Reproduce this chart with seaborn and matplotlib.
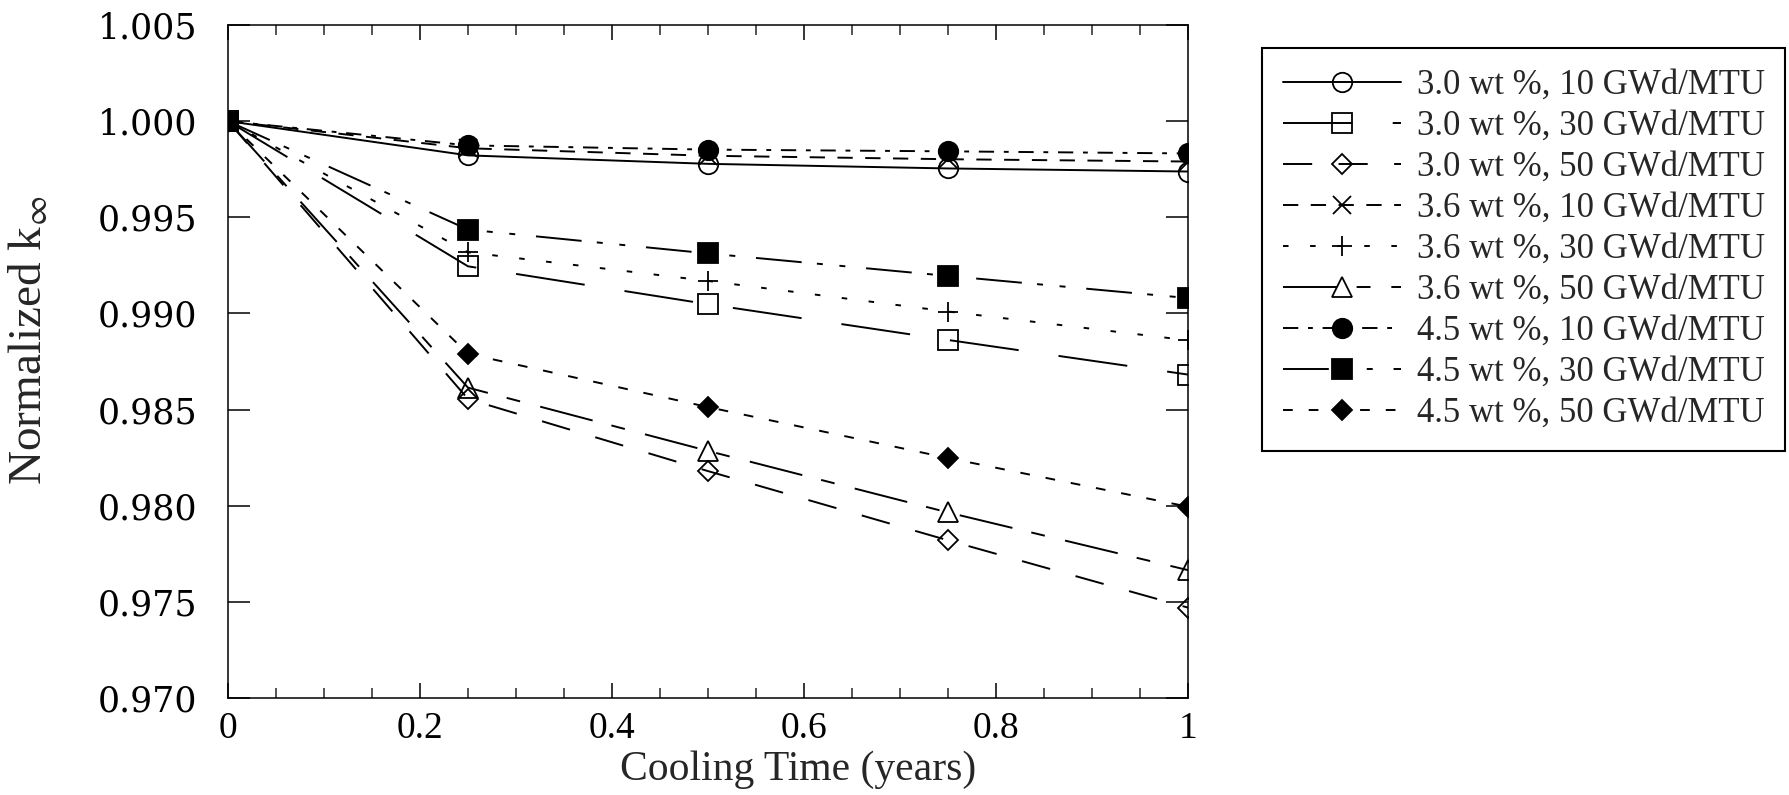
import matplotlib
matplotlib.use("Agg")
import matplotlib.pyplot as plt
import seaborn as sns
from matplotlib.ticker import FixedLocator, MultipleLocator

# ---------------- data ----------------
cooling_time = [0.0, 0.25, 0.5, 0.75, 1.0]

k_30_10 = [1.0, 0.99822, 0.99778, 0.99754, 0.99738]
k_30_30 = [1.0, 0.99245, 0.99048, 0.98862, 0.98682]
k_30_50 = [1.0, 0.98555, 0.98180, 0.97820, 0.97470]
k_36_10 = [1.0, 0.99859, 0.99820, 0.99802, 0.99790]
k_36_30 = [1.0, 0.99318, 0.99169, 0.99010, 0.98860]
k_36_50 = [1.0, 0.98614, 0.98285, 0.97965, 0.97665]
k_45_10 = [1.0, 0.99874, 0.99852, 0.99843, 0.99832]
k_45_30 = [1.0, 0.99436, 0.99312, 0.99195, 0.99080]
k_45_50 = [1.0, 0.98790, 0.98513, 0.98248, 0.97995]

series_labels = [
    "3.0 wt %, 10 GWd/MTU",
    "3.0 wt %, 30 GWd/MTU",
    "3.0 wt %, 50 GWd/MTU",
    "3.6 wt %, 10 GWd/MTU",
    "3.6 wt %, 30 GWd/MTU",
    "3.6 wt %, 50 GWd/MTU",
    "4.5 wt %, 10 GWd/MTU",
    "4.5 wt %, 30 GWd/MTU",
    "4.5 wt %, 50 GWd/MTU",
]
series_values = [k_30_10, k_30_30, k_30_50, k_36_10, k_36_30, k_36_50,
                 k_45_10, k_45_30, k_45_50]

xtick_values = [0.0, 0.2, 0.4, 0.6, 0.8, 1.0]
xtick_labels = ["0", "0.2", "0.4", "0.6", "0.8", "1"]
ytick_values = [0.970, 0.975, 0.980, 0.985, 0.990, 0.995, 1.000, 1.005]
ytick_labels = ["0.970", "0.975", "0.980", "0.985", "0.990", "0.995", "1.000", "1.005"]

x_label = "Cooling Time (years)"
y_label = r"Normalized k$_{\infty}$"

# ---------------- styles ----------------
styles = [
    dict(marker="o", ms=14, mfc="none", ls="-"),
    dict(marker="s", ms=14.5, mfc="none", ls=(0, (50, 29))),
    dict(marker="D", ms=10.5, mfc="none", ls=(0, (21, 19))),
    dict(marker="x", ms=13, mfc="none", ls=(0, (11, 9))),
    dict(marker="+", ms=14, mfc="none", ls=(0, (4, 15.5))),
    dict(marker="^", ms=14, mfc="none", ls=(0, (39, 14, 10, 15))),
    dict(marker="o", ms=14, mfc="black", ls=(0, (11, 7, 3.5, 7))),
    dict(marker="s", ms=14.5, mfc="black", ls=(0, (33, 11, 4.3, 12, 4.3, 15))),
    dict(marker="D", ms=10.5, mfc="black", ls=(0, (7, 11.5))),
]

sns.set_style("white")
plt.rcParams["font.family"] = ["Liberation Serif", "DejaVu Serif"]
plt.rcParams["mathtext.fontset"] = "stix"
plt.rcParams["lines.scale_dashes"] = False

W, H = 1790, 795
fig = plt.figure(figsize=(W / 100, H / 100), dpi=100)
ax = fig.add_axes([228 / W, 1 - 698 / H, 960 / W, 673 / H])

for lab, vals, st in zip(series_labels, series_values, styles):
    sns.lineplot(
        x=cooling_time, y=vals, ax=ax, color="black",
        linestyle=st["ls"], linewidth=1.4,
        marker=st["marker"], markersize=st["ms"],
        markerfacecolor=st["mfc"], markeredgecolor="black",
        markeredgewidth=1.3, label=lab, legend=False,
    )

ax.set_xlim(0.0, 1.0)
ax.set_ylim(0.970, 1.005)

ax.xaxis.set_major_locator(FixedLocator(xtick_values))
ax.set_xticklabels(xtick_labels, fontsize=27, fontfamily="Liberation Serif")
ax.xaxis.set_minor_locator(MultipleLocator(0.05))
ax.yaxis.set_major_locator(FixedLocator(ytick_values))
ax.set_yticklabels(ytick_labels, fontsize=25, fontfamily="DejaVu Serif")

ax.tick_params(axis="x", which="major", direction="in", length=11, width=1.1,
               top=True, bottom=True, pad=10, colors="black")
ax.tick_params(axis="x", which="minor", direction="in", length=7, width=1.1,
               top=True, bottom=True)
ax.tick_params(axis="y", which="major", direction="in", length=15.5, width=1.1,
               left=True, right=True, pad=22, colors="black")

for sp in ax.spines.values():
    sp.set_visible(True)
    sp.set_color("black")
    sp.set_linewidth(1.1)

ax.set_xlabel(x_label, fontsize=30, va="center")
ax.xaxis.set_label_coords(0.594, -0.107)
ax.set_ylabel(y_label, fontsize=34, va="center")
ax.yaxis.set_label_coords(-0.206, 0.532)

handles, labels = ax.get_legend_handles_labels()
leg = ax.legend(
    handles, labels, loc="upper left",
    bbox_to_anchor=(1262 / W, 1 - 48 / H), bbox_transform=fig.transFigure,
    fontsize=25, frameon=True, fancybox=False, shadow=False,
    edgecolor="black", framealpha=1, borderaxespad=0,
    handlelength=3.4, handletextpad=0.45, borderpad=0.6,
    labelspacing=0.23, numpoints=1,
)
leg.get_frame().set_linewidth(1.5)

fig.savefig("out.png", dpi=100, facecolor="white")
